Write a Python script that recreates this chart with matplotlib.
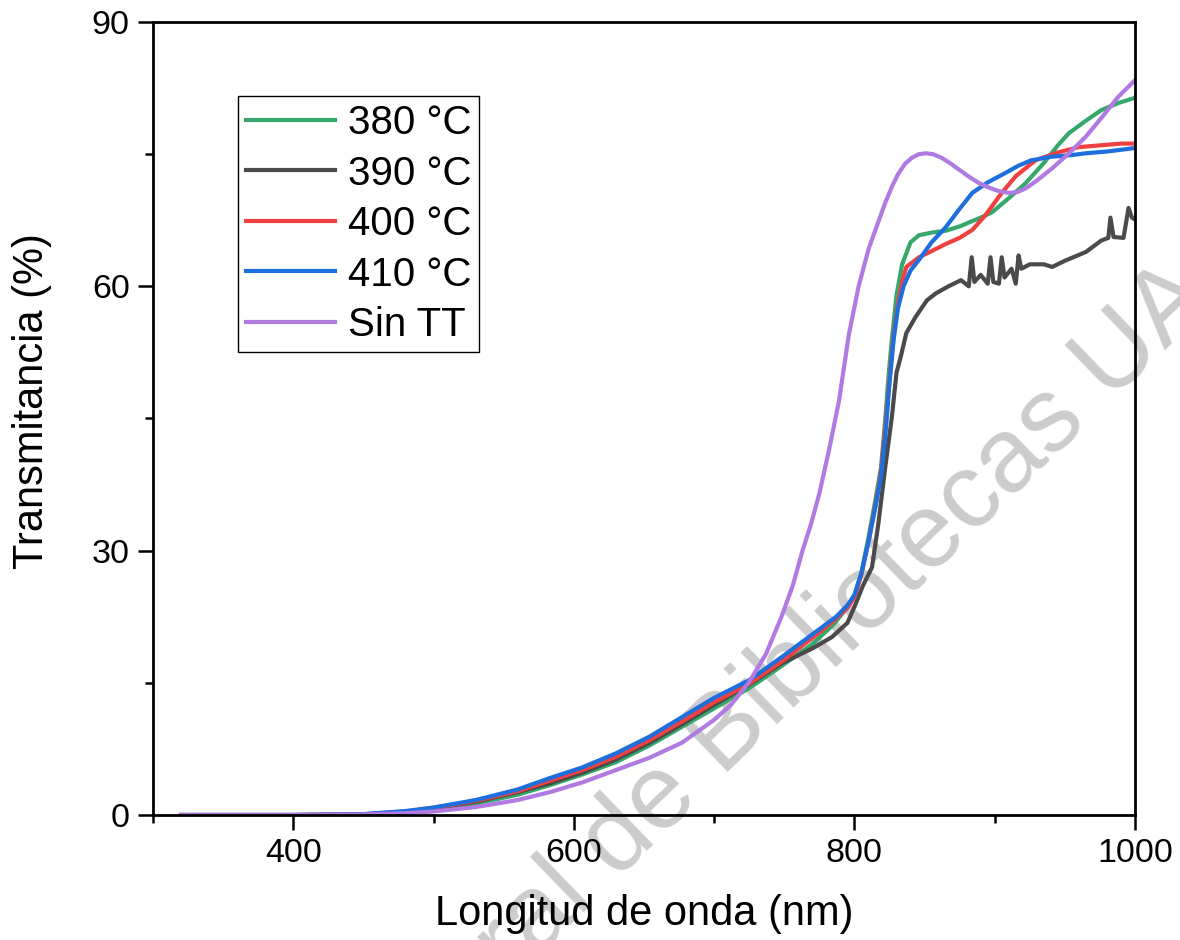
import matplotlib
matplotlib.use("Agg")
import matplotlib.pyplot as plt
from matplotlib.ticker import MultipleLocator

plt.rcParams['font.family'] = ['Liberation Sans', 'DejaVu Sans']

# ---------------- data ----------------
labels = ["380 °C", "390 °C", "400 °C", "410 °C", "Sin TT"]
colors = ["#36A86C", "#4A4A4A", "#F04040", "#1E6FDE", "#B07AE0"]

wl_380 = [320, 400, 450, 480, 500, 530, 560, 583, 606, 630, 654, 677, 700, 725, 748, 770, 785,
          795, 800, 805, 810, 815, 819, 822, 824.5, 827, 830, 834, 840, 846, 855, 865, 875, 881,
          890, 898, 910, 922, 935, 945, 953, 965, 976, 988, 1000]
t_380 = [0, 0, 0.05, 0.3, 0.6, 1.3, 2.3, 3.4, 4.6, 6.0, 7.9, 10.0, 12.1, 14.4, 16.9, 19.4, 21.6,
         23.6, 24.8, 27.5, 31.5, 35.8, 39.5, 45.0, 50.2, 54.5, 59.0, 62.5, 65.0, 65.8, 66.1, 66.3,
         66.8, 67.2, 67.8, 68.4, 70.0, 71.7, 74.0, 76.0, 77.4, 78.8, 80.0, 80.8, 81.4]

wl_390 = [320, 400, 450, 480, 500, 530, 560, 583, 606, 630, 654, 677, 700, 725, 748, 770, 784,
          795, 801, 806, 812.5, 817, 822, 826.7, 830, 833, 837, 843.5, 851.6, 858, 867, 876,
          881.5, 883.6, 885.5, 890, 895, 897, 899, 903, 905, 907, 912, 915, 917, 919, 925, 935,
          941, 950, 965, 976, 981, 982.5, 984.7, 991.8, 995.4, 997.8, 1000]
t_390 = [0, 0, 0.05, 0.35, 0.7, 1.5, 2.6, 3.6, 4.8, 6.3, 8.2, 10.3, 12.5, 14.8, 17.2, 18.9, 20.2,
         21.8, 24.0, 26.0, 28.1, 33.0, 39.5, 45.2, 50.2, 52.0, 54.7, 56.5, 58.4, 59.2, 60.0, 60.7,
         60.0, 63.3, 60.5, 61.3, 60.3, 63.3, 60.5, 60.3, 63.3, 61.0, 62.0, 60.3, 63.5, 62.0, 62.5,
         62.5, 62.2, 62.9, 63.9, 65.2, 65.5, 67.8, 65.6, 65.5, 68.9, 67.8, 67.6]

wl_400 = [320, 400, 450, 480, 500, 530, 560, 583, 606, 630, 654, 677, 700, 725, 748, 770, 785,
          795, 800, 805, 810, 815, 819, 822, 825, 828, 831, 834, 837, 846, 855, 865, 875, 884,
          893, 905, 915, 929, 945, 960, 975, 990, 1000]
t_400 = [0, 0, 0.08, 0.4, 0.8, 1.6, 2.7, 3.9, 5.1, 6.6, 8.5, 10.6, 12.8, 14.9, 17.4, 20.1, 22.0,
         23.5, 24.7, 27.3, 31.0, 35.2, 39.0, 44.0, 49.5, 54.5, 58.0, 60.5, 62.2, 63.3, 64.0, 64.8,
         65.5, 66.4, 68.0, 70.6, 72.5, 74.3, 75.2, 75.8, 76.0, 76.2, 76.2]

wl_410 = [320, 400, 450, 480, 500, 530, 560, 583, 606, 630, 654, 677, 700, 725, 748, 770, 787,
          795, 800, 805, 810, 815, 819, 822, 825, 828, 831, 835, 840, 846, 855, 865, 875, 884,
          895, 908, 917, 926, 940, 955, 965, 980, 990, 1000]
t_410 = [0, 0, 0.1, 0.45, 0.85, 1.7, 2.9, 4.2, 5.4, 7.0, 8.9, 11.1, 13.3, 15.3, 17.9, 20.5, 22.5,
         23.8, 25.0, 27.5, 31.0, 35.0, 38.5, 43.0, 49.0, 54.0, 57.5, 60.0, 61.8, 63.0, 65.0, 66.7,
         68.8, 70.6, 71.8, 72.9, 73.7, 74.3, 74.7, 74.9, 75.1, 75.3, 75.5, 75.7]

wl_sin = [320, 400, 450, 480, 500, 530, 560, 583, 606, 630, 654, 677, 700, 712, 725, 737, 748,
          756, 763, 769, 775, 782, 789, 796, 803, 810, 817, 822, 827, 831, 836, 841, 846, 851,
          856, 862, 868, 875, 882, 889, 896, 903, 910, 916, 922, 930, 941, 953, 965, 977, 988,
          1000]
t_sin = [0, 0, 0.05, 0.2, 0.4, 0.9, 1.7, 2.6, 3.7, 5.1, 6.5, 8.2, 10.8, 12.5, 15.1, 18.3, 22.5,
         26.0, 30.0, 33.0, 36.5, 41.5, 47.0, 54.5, 60.0, 64.2, 67.3, 69.5, 71.4, 72.7, 73.9, 74.6,
         75.0, 75.1, 75.0, 74.6, 74.0, 73.2, 72.4, 71.7, 71.2, 70.8, 70.6, 70.7, 71.1, 72.0, 73.4,
         75.1, 77.0, 79.3, 81.5, 83.4]

series_x = [wl_380, wl_390, wl_400, wl_410, wl_sin]
series_y = [t_380, t_390, t_400, t_410, t_sin]

x_ticks = [400, 600, 800, 1000]
y_ticks = [0, 30, 60, 90]

# ---------------- figure ----------------
fig = plt.figure(figsize=(11.8, 9.4), dpi=100)
fig.patch.set_facecolor("white")
ax = fig.add_axes([153 / 1180, 1 - 815 / 940, (1135 - 153) / 1180, (815 - 22) / 940])
ax.patch.set_alpha(0)

for xs, ys, c, lab in zip(series_x, series_y, colors, labels):
    ax.plot(xs, ys, color=c, lw=3.0, label=lab, solid_joinstyle="round")

ax.set_xlim(300, 1000)
ax.set_ylim(0, 90)
ax.set_xticks(x_ticks)
ax.set_yticks(y_ticks)
ax.xaxis.set_minor_locator(MultipleLocator(100))
ax.yaxis.set_minor_locator(MultipleLocator(15))
ax.tick_params(which="major", direction="out", length=10.8, width=1.8, labelsize=24.5, pad=6,
               top=False, right=False)
ax.tick_params(which="minor", direction="out", length=5.8, width=1.8, top=False, right=False)
for s in ax.spines.values():
    s.set_linewidth(2.0)

ax.set_xlabel("Longitud de onda (nm)", fontsize=30, labelpad=18)
ax.set_ylabel("Transmitancia (%)", fontsize=30)
ax.yaxis.set_label_coords(-0.103, 0.522)

leg = ax.legend(loc="upper left", bbox_to_anchor=(0.0866, 0.9067), borderaxespad=0,
                fontsize=29, frameon=True, fancybox=False, handlelength=2.2,
                handletextpad=0.32, labelspacing=0.31, borderpad=0.2)
leg.get_frame().set_edgecolor("black")
leg.get_frame().set_linewidth(1.0)
leg.get_frame().set_alpha(1)
for h in leg.get_lines():
    h.set_linewidth(3.0)

# watermark
bx, by = 722 / 1180, 1 - 778 / 940
fig.text(bx, by, "Bibliotecas UAQ", rotation=44, rotation_mode="anchor", ha="left",
         va="baseline", fontsize=76, color="#cccccc", zorder=-1)
fig.text(bx, by, "Dirección General de ", rotation=44, rotation_mode="anchor", ha="right",
         va="baseline", fontsize=76, color="#cccccc", zorder=-1)

fig.savefig("out.png", dpi=100)
